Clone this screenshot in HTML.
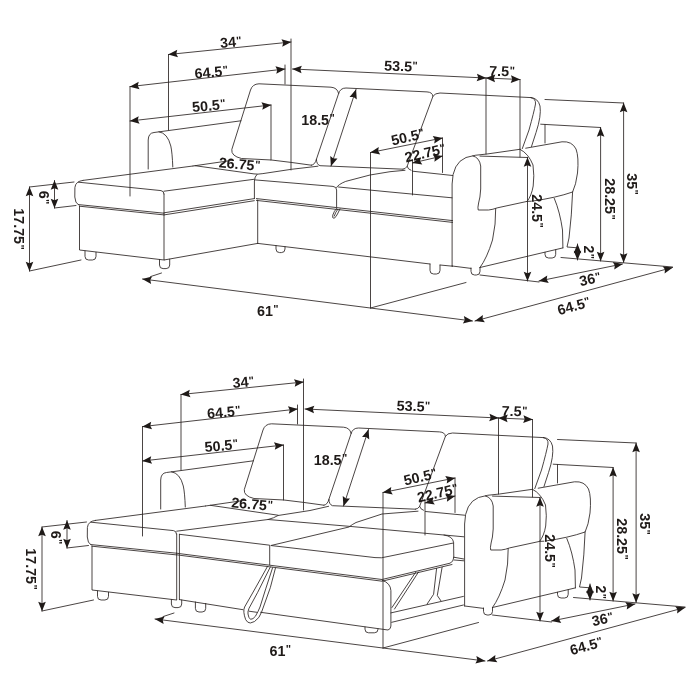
<!DOCTYPE html>
<html><head><meta charset="utf-8"><title>Sectional sofa dimensions</title>
<style>
html,body{margin:0;padding:0;background:#fff;}
svg{display:block;}
text{font-family:"Liberation Sans",sans-serif;font-weight:bold;fill:#1f1a18;stroke:none;text-anchor:middle;}
</style></head><body>
<svg width="700" height="700" viewBox="0 0 700 700">
<defs>
<marker id="ah" viewBox="-11 -5 12 10" markerWidth="12" markerHeight="10" refX="0" refY="0" orient="auto-start-reverse" markerUnits="userSpaceOnUse">
<path d="M0.3,0 L-9.2,-3.8 L-7.8,0 L-9.2,3.8 Z" fill="#1f1a18" stroke="none"/>
</marker>
<g id="shared" fill="none" stroke="#2a2422" stroke-width="0.85" stroke-linecap="round" stroke-linejoin="round">
<line x1="168.5" y1="54.5" x2="291" y2="42" marker-start="url(#ah)" marker-end="url(#ah)"/>
<line x1="168.5" y1="54.5" x2="168.5" y2="130"/>
<line x1="291" y1="39" x2="291" y2="170"/>
<line x1="130" y1="86.6" x2="285" y2="69" marker-start="url(#ah)" marker-end="url(#ah)"/>
<line x1="130" y1="86.6" x2="130" y2="196"/>
<line x1="285" y1="65" x2="285" y2="84"/>
<line x1="130" y1="121" x2="271" y2="105" marker-start="url(#ah)" marker-end="url(#ah)"/>
<line x1="271" y1="105" x2="271" y2="160"/>
<line x1="292.5" y1="69" x2="486" y2="78" marker-start="url(#ah)" marker-end="url(#ah)"/>
<line x1="486" y1="78" x2="520" y2="79.5" marker-start="url(#ah)" marker-end="url(#ah)"/>
<line x1="486" y1="78" x2="486" y2="154"/>
<line x1="520" y1="79.5" x2="520" y2="157"/>
<line x1="356" y1="89.5" x2="331" y2="166" marker-start="url(#ah)" marker-end="url(#ah)"/>
<line x1="370.5" y1="152.5" x2="442.5" y2="138" marker-start="url(#ah)" marker-end="url(#ah)"/>
<line x1="370.5" y1="152.5" x2="370.5" y2="308"/>
<line x1="442.5" y1="138" x2="442.5" y2="172.5"/>
<line x1="412.5" y1="163" x2="442.5" y2="156" marker-start="url(#ah)" marker-end="url(#ah)"/>
<line x1="412.5" y1="160" x2="412.5" y2="195"/>
<line x1="527.5" y1="157.5" x2="527.5" y2="281" marker-start="url(#ah)" marker-end="url(#ah)"/>
<line x1="600.6" y1="127.5" x2="600.6" y2="261" marker-start="url(#ah)" marker-end="url(#ah)"/>
<line x1="540.7" y1="124.2" x2="600.6" y2="127.5"/>
<line x1="623.6" y1="103" x2="623.6" y2="262.5" marker-start="url(#ah)" marker-end="url(#ah)"/>
<line x1="545" y1="99.5" x2="623.6" y2="103"/>
<line x1="577.5" y1="244" x2="577.5" y2="260" marker-start="url(#ah)" marker-end="url(#ah)"/>
<line x1="539" y1="281" x2="622.5" y2="264" marker-start="url(#ah)" marker-end="url(#ah)"/>
<line x1="475" y1="321" x2="672.5" y2="267.5" marker-start="url(#ah)" marker-end="url(#ah)"/>
<line x1="142.5" y1="279" x2="472.5" y2="321" marker-start="url(#ah)" marker-end="url(#ah)"/>
<line x1="150.5" y1="276.6" x2="161.5" y2="273"/>
<line x1="561" y1="257.5" x2="672.5" y2="267"/>
<line x1="29.5" y1="187" x2="29.5" y2="271" marker-start="url(#ah)" marker-end="url(#ah)"/>
<line x1="29.5" y1="187" x2="74" y2="182"/>
<line x1="29.5" y1="271" x2="81" y2="260"/>
<line x1="54.5" y1="180.5" x2="54.5" y2="208" marker-start="url(#ah)" marker-end="url(#ah)"/>
<line x1="54.5" y1="208" x2="76" y2="205.5"/>
<line x1="370.5" y1="308" x2="466" y2="282.5"/>
<line x1="480" y1="275" x2="539" y2="282"/>
<path d="M83,180.4 Q75.5,181.2 74.9,187.5 L74.8,197 Q75,203 78.5,205"/>
<path d="M83,180.4 L193,166"/>
<path d="M78.5,182.2 L161,190.6 Q164,191 164,194"/>
<path d="M78.5,204.6 L164,213.2"/>
<path d="M79.5,206.2 L164,214.9"/>
<path d="M79.5,206 L79.5,250 L164,260"/>
<path d="M85,251 L85,256.4 Q85,260 88.6,260 L92.4,260 Q96,260 96,256.4 L96,252.3"/>
<path d="M148.2,169 L148.2,140 Q148.4,133 154,132.5 L241,120.8"/>
<path d="M159,131.8 Q167.5,133 170.8,146 Q172.3,153 172.8,167"/>
<path d="M311.4,165.2 L291,162.4 L271.4,160 L241.5,158.5 Q231,156 231.8,149.5 L250.5,90 Q252.5,84 259,83.8 L331,87.2 Q337.5,87.8 338.6,93.6 L316.4,159.3 Q315,164.8 311.4,165.2"/>
<path d="M338.6,93.6 Q340,88 346,88 L427,91.9 Q432.5,92.2 432.9,96.4 L407.1,166.4 Q405.5,169 403,169.2"/>
<path d="M316.4,159.3 Q316.5,164.5 320,165.7 L403,169.2"/>
<path d="M432.9,96.4 Q434.5,93 440,93 L531,97.6"/>
<path d="M407.1,166.4 Q408,169.5 411,170.3"/>
<path d="M531,97.6 Q536,98.5 535.5,104 Q534,112 529,130 L522.3,148.6"/>
<path d="M531,97.6 Q538,98 540,106 Q541.5,116 536,132.6 L531.5,146.5"/>
<line x1="545" y1="124.5" x2="545" y2="143"/>
<path d="M452.1,266 L452.1,184 Q452.5,163 466,157.5 Q474,154.8 487,154 L520,149.3"/>
<path d="M472.9,155.9 Q479.5,157.5 480.7,166 L480.7,189 Q480.2,198 478.6,203 Q477.5,208 478.2,210 L488.6,210 Q493,209.5 497.1,207.9 L527.1,201.4 L531.4,201.2"/>
<line x1="480" y1="156.1" x2="527.5" y2="157.5"/>
<path d="M520,149.3 Q528.5,153.5 533,165 Q534.5,176 533.2,186 Q531.5,196 527.1,201.4"/>
<path d="M525.7,148.2 L562,141.8 Q572,141 576,149 Q579,157 577.5,173 Q576,185 572.6,192 Q556,197.8 533,201"/>
<path d="M554.3,198.4 Q560,212 562.5,230 L562.9,247.9"/>
<path d="M572.6,192 Q571.8,215 569,238 L567,247 L578.6,247.9"/>
<path d="M495.7,208.6 Q496,224 492.5,240 Q487,258 480,267.5"/>
<path d="M452.1,266 L471,268.4"/>
<path d="M471,268 L471,271.4 Q471,275 474.6,275 L476.4,275 Q480,275 480,271.4 L480,267.5"/>
<path d="M480,267.5 L562.9,247.9"/>
<path d="M545,252.3 L545,254.4 Q545,258 548.6,258 L552.1,258 Q555.7,258 555.7,254.4 L555.7,249.8"/>
</g>
<g id="labels" style="opacity:0.999">
<text x="230.8" y="42" transform="rotate(-5 230.8 42)" font-size="14.3" dy="0.36em">34<tspan font-size="11.15" dy="-2.26" dx="0.4">&quot;</tspan></text>
<text x="211.3" y="72" transform="rotate(-5 211.3 72)" font-size="14.3" dy="0.36em">64.5<tspan font-size="11.15" dy="-2.26" dx="0.4">&quot;</tspan></text>
<text x="208.8" y="105.5" transform="rotate(-5 208.8 105.5)" font-size="14.3" dy="0.36em">50.5<tspan font-size="11.15" dy="-2.26" dx="0.4">&quot;</tspan></text>
<text x="239.5" y="164" transform="rotate(5 239.5 164)" font-size="14.3" dy="0.36em">26.75<tspan font-size="11.15" dy="-2.26" dx="0.4">&quot;</tspan></text>
<text x="318" y="119.5" transform="rotate(0 318 119.5)" font-size="14.3" dy="0.36em">18.5<tspan font-size="11.15" dy="-2.26" dx="0.4">&quot;</tspan></text>
<text x="401" y="66" transform="rotate(2 401 66)" font-size="14.3" dy="0.36em">53.5<tspan font-size="11.15" dy="-2.26" dx="0.4">&quot;</tspan></text>
<text x="502" y="71" transform="rotate(2 502 71)" font-size="14.3" dy="0.36em">7.5<tspan font-size="11.15" dy="-2.26" dx="0.4">&quot;</tspan></text>
<text x="407.8" y="136.8" transform="rotate(-13 407.8 136.8)" font-size="14.3" dy="0.36em">50.5<tspan font-size="11.15" dy="-2.26" dx="0.4">&quot;</tspan></text>
<text x="425" y="152.8" transform="rotate(-13 425 152.8)" font-size="14.3" dy="0.36em">22.75<tspan font-size="11.15" dy="-2.26" dx="0.4">&quot;</tspan></text>
<text x="537.5" y="211" transform="rotate(90 537.5 211)" font-size="14.3" dy="0.36em">24.5<tspan font-size="11.15" dy="-2.26" dx="0.4">&quot;</tspan></text>
<text x="610" y="199" transform="rotate(90 610 199)" font-size="14.3" dy="0.36em">28.25<tspan font-size="11.15" dy="-2.26" dx="0.4">&quot;</tspan></text>
<text x="632.5" y="184" transform="rotate(90 632.5 184)" font-size="14.3" dy="0.36em">35<tspan font-size="11.15" dy="-2.26" dx="0.4">&quot;</tspan></text>
<text x="588.8" y="252.2" transform="rotate(90 588.8 252.2)" font-size="14" dy="0.36em">2<tspan font-size="10.92" dy="-2.21" dx="0.4">&quot;</tspan></text>
<text x="590" y="279" transform="rotate(-12 590 279)" font-size="14.3" dy="0.36em">36<tspan font-size="11.15" dy="-2.26" dx="0.4">&quot;</tspan></text>
<text x="573.8" y="305.8" transform="rotate(-15.5 573.8 305.8)" font-size="14.3" dy="0.36em">64.5<tspan font-size="11.15" dy="-2.26" dx="0.4">&quot;</tspan></text>
<text x="267.8" y="310.5" transform="rotate(0 267.8 310.5)" font-size="14.3" dy="0.36em">61<tspan font-size="11.15" dy="-2.26" dx="0.4">&quot;</tspan></text>
<text x="44" y="197.5" transform="rotate(90 44 197.5)" font-size="14.3" dy="0.36em">6<tspan font-size="11.15" dy="-2.26" dx="0.4">&quot;</tspan></text>
<text x="19" y="229" transform="rotate(90 19 229)" font-size="14.3" dy="0.36em">17.75<tspan font-size="11.15" dy="-2.26" dx="0.4">&quot;</tspan></text>
</g>
</defs>
<rect width="700" height="700" fill="#fff"/>
<use href="#shared"/>
<use href="#labels"/>
<g fill="none" stroke="#2a2422" stroke-width="0.85" stroke-linecap="round" stroke-linejoin="round">
<path d="M164,194 L164,260 L257.7,243.4"/>
<path d="M159.5,259.5 L159.5,265.0 Q159.5,268.6 163.1,268.6 L166.1,268.6 Q169.7,268.6 169.7,265.0 L169.7,259.2"/>
<path d="M164,191.2 L254,179.3"/>
<path d="M164,212.8 L254.3,198.6"/>
<path d="M164,214.9 L254.3,200.7"/>
<path d="M193,166 L195,165.7 L254,173.9 Q257.5,174.5 262.9,173.6 L291.4,169.3 L318,166.2"/>
<path d="M195,165.7 L233,160.2"/>
<path d="M257,174.4 Q254.6,176.5 254.4,181 L254.4,198.6 M257.7,200 L257.7,243.4"/>
<path d="M255,179.9 L333,186.4 Q336.6,186.8 336.6,190 L336.6,207"/>
<path d="M336.6,187.5 Q338,184.5 345.7,181.4 L370,175 L390,171.7 L405,170.3"/>
<path d="M338.5,187 L390,192 L452,197.8"/>
<path d="M256.4,198.6 L452.6,220.6"/>
<path d="M256.4,200.4 L452.6,222.4"/>
<path d="M336.8,208.3 Q334,211 332.8,215 Q332,218.5 334,218.3 Q336,217.5 338,213 L340,208.8"/>
<path d="M337.6,209.5 Q335.5,212 334.3,216"/>
<path d="M257.7,243.4 L430,264 M440,265 L452.6,266.2"/>
<path d="M276,245.5 L276,249.0 Q276,252.6 279.6,252.6 L281.4,252.6 Q285,252.6 285,249.0 L285,246.6"/>
<path d="M430,264 L430,270.4 Q430,274 433.6,274 L436.4,274 Q440,274 440,270.4 L440,265.2"/>
<path d="M412.5,171.2 L452.6,175.5"/>
</g>
<use href="#shared" transform="translate(12.5 340)"/>
<use href="#labels" transform="translate(12.5 340)"/>
<g fill="none" stroke="#2a2422" stroke-width="0.85" stroke-linecap="round" stroke-linejoin="round">
<path d="M176.7,534 L176.7,599.6 M179.4,534.3 L179.4,599.6"/>
<path d="M176.7,531.2 L268,519.5 Q274,518 278,515.5 L310,510.5 L328.6,506.3"/>
<path d="M205.5,506 L210.3,505.3 L278,515.2"/>
<path d="M210.3,505.3 L245.5,500.2"/>
<path d="M179.4,534.3 L269.7,545.2 L269.7,565"/>
<path d="M176.7,553.2 L179.4,553.6 L269.7,565.2 L382,579.5 L450,563.2 Q453.6,562 453.8,557.5"/>
<path d="M176.7,554.8 L179.4,555.2 L269.7,566.8 L382,581.2 L452,564.5"/>
<path d="M268,519.5 L349,526.3 L444,535 Q452.8,536.3 453.6,542.5 L453.8,557.5"/>
<path d="M271,545.5 L349,527 Q352,524.5 356,522.5 L382,514 L418,511.2"/>
<path d="M271.5,545.6 L375,557.6 Q381,558.6 389,556.3 L453.4,543"/>
<path d="M179.4,599.6 L243,609.7 M260.6,612.3 L388,630 Q390.9,629 390.9,626 L390.9,590.6 Q390.5,583 382.3,580.3"/>
<path d="M171.4,599.5 L171.4,604.0 Q171.4,607.6 175.0,607.6 L178.1,607.6 Q181.7,607.6 181.7,604.0 L181.7,600"/>
<path d="M195.4,602 L195.4,608.4 Q195.4,612 199.0,612 L202.1,612 Q205.7,612 205.7,608.4 L205.7,603.4"/>
<path d="M365,627 L365,629.1999999999999 Q365,632.8 368.6,632.8 L374.4,632.8 Q378,632.8 378,629.1999999999999 L378,628.8"/>
<path d="M267.4,566.6 L254.3,590 L244.6,607 Q242.6,611.5 245.7,619.7 Q247.5,623 250.3,623 Q254.5,622.8 258.9,617.4 Q262,612 263.4,607 L270.3,587.7 L275.4,568.3"/>
<path d="M270.3,567 L257.7,592.3 L249,608.3 Q247.5,612 248,614 Q248.5,618 250.5,619.3 Q253,619.5 255.4,616.3 Q258,612 260,607 L265.7,588.9 L272.6,567.7"/>
<path d="M249,611.2 L256.8,612.3"/>
<path d="M415.5,572.5 L392,607.5 M418.5,572 L394.5,609"/>
<path d="M436.6,568.4 L433.6,594.3 L427.1,604 M442.1,567.3 L437.3,595.5 L440.9,600.8"/>
<path d="M390.9,612.9 L463.4,596.4 M391.7,622.3 L463.4,605"/>
<path d="M453.8,557.2 L463.8,559 M454.3,560 L463.8,560.8 M444,535 L463.8,536.8"/>
<path d="M425.5,511.5 L464.6,515.2"/>
</g>
</svg>
</body></html>
